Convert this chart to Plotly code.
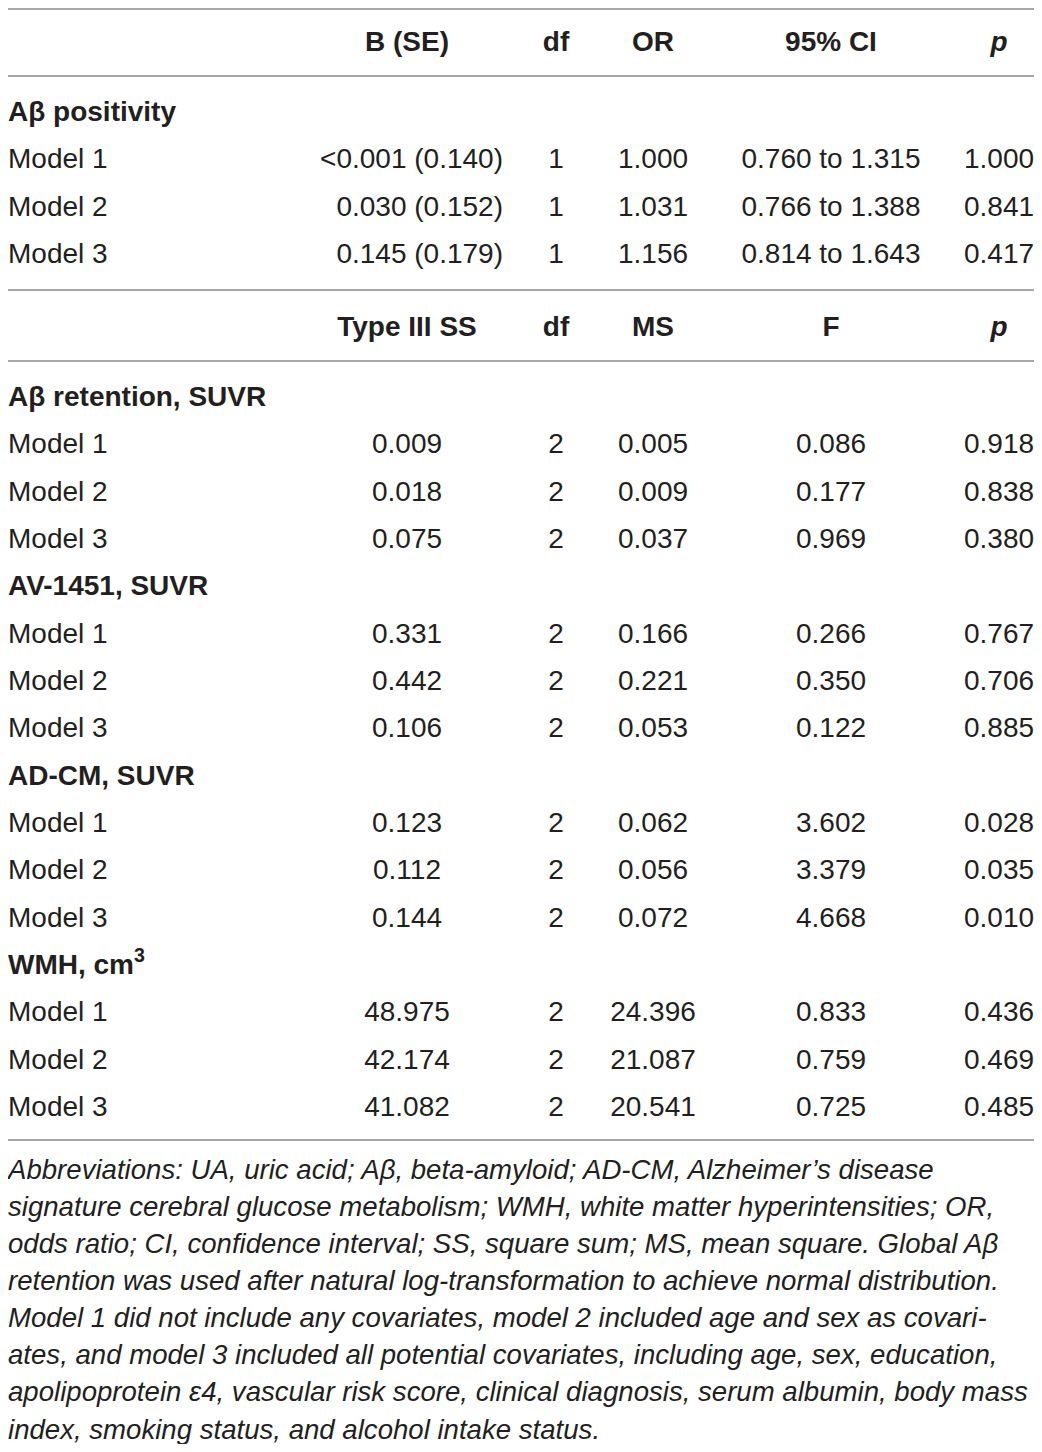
import plotly.graph_objects as go

# ---- data ----
or_headers = ["B (SE)", "df", "OR", "95% CI", "<i>p</i>"]
or_section = "Aβ positivity"
or_models = ["Model 1", "Model 2", "Model 3"]
or_b_se = ["<0.001 (0.140)", "0.030 (0.152)", "0.145 (0.179)"]
or_df = [1, 1, 1]
or_ratio = [1.000, 1.031, 1.156]
or_ci_low = [0.760, 0.766, 0.814]
or_ci_high = [1.315, 1.388, 1.643]
or_p = [1.000, 0.841, 0.417]

anova_headers = ["Type III SS", "df", "MS", "F", "<i>p</i>"]
anova_outcomes = ["Aβ retention, SUVR", "AV-1451, SUVR", "AD-CM, SUVR", "WMH, cm<sup>3</sup>"]
anova_models = ["Model 1", "Model 2", "Model 3"]
anova_ss = [[0.009, 0.018, 0.075], [0.331, 0.442, 0.106],
            [0.123, 0.112, 0.144], [48.975, 42.174, 41.082]]
anova_df = [[2, 2, 2], [2, 2, 2], [2, 2, 2], [2, 2, 2]]
anova_ms = [[0.005, 0.009, 0.037], [0.166, 0.221, 0.053],
            [0.062, 0.056, 0.072], [24.396, 21.087, 20.541]]
anova_f = [[0.086, 0.177, 0.969], [0.266, 0.350, 0.122],
           [3.602, 3.379, 4.668], [0.833, 0.759, 0.725]]
anova_p = [[0.918, 0.838, 0.380], [0.767, 0.706, 0.885],
           [0.028, 0.035, 0.010], [0.436, 0.469, 0.485]]

footnote_lines = [
    "Abbreviations: UA, uric acid; Aβ, beta-amyloid; AD-CM, Alzheimer’s disease",
    "signature cerebral glucose metabolism; WMH, white matter hyperintensities; OR,",
    "odds ratio; CI, confidence interval; SS, square sum; MS, mean square. Global Aβ",
    "retention was used after natural log-transformation to achieve normal distribution.",
    "Model 1 did not include any covariates, model 2 included age and sex as covari-",
    "ates, and model 3 included all potential covariates, including age, sex, education,",
    "apolipoprotein ε4, vascular risk score, clinical diagnosis, serum albumin, body mass",
    "index, smoking status, and alcohol intake status.",
]

# ---- layout constants ----
W, H = 1042, 1452
PAD = 8  # default body margin of the html page
FONT = "Liberation Sans, Arial, sans-serif"
INK = "#231f20"
RULE = "#a6a6a6"
label_x = 8
col_x = [407, 556, 653, 831, 999]
bse_right = 503
pitch = 47.33
head1_y = 44
body1_y = 114
head2_y = 329
body2_y = 399
note_y = 1172
note_pitch = 37.1

fmt = lambda v: f"{v:.3f}"

fig = go.Figure()


def add_text(xs, ys, texts, pos, size=28, style="normal"):
    fig.add_trace(go.Scatter(
        x=xs, y=ys, text=texts, mode="text", textposition=pos,
        textfont=dict(family=FONT, size=size, color=INK, style=style),
        cliponaxis=False, hoverinfo="skip", showlegend=False,
    ))


# header rows
add_text(col_x, [head1_y] * 5, [f"<b>{h}</b>" for h in or_headers], "middle center")
add_text(col_x, [head2_y] * 5, [f"<b>{h}</b>" for h in anova_headers], "middle center")

# first block (logistic regression)
add_text([label_x], [body1_y], [f"<b>{or_section}</b>"], "middle right")
ys1 = [body1_y + pitch * (i + 1) for i in range(len(or_models))]
add_text([label_x] * 3, ys1, or_models, "middle right")
add_text([bse_right] * 3, ys1, or_b_se, "middle left")
add_text([col_x[1]] * 3, ys1, [str(d) for d in or_df], "middle center")
add_text([col_x[2]] * 3, ys1, [fmt(v) for v in or_ratio], "middle center")
add_text([col_x[3]] * 3, ys1,
         [f"{fmt(a)} to {fmt(b)}" for a, b in zip(or_ci_low, or_ci_high)], "middle center")
add_text([col_x[4]] * 3, ys1, [fmt(v) for v in or_p], "middle center")

# second block (ANCOVA)
sec_x, sec_y, sec_t = [], [], []
lab_y, lab_t = [], []
cols = {k: ([], []) for k in range(5)}
row = 0
for k, outcome in enumerate(anova_outcomes):
    sec_x.append(label_x)
    sec_y.append(body2_y + pitch * row)
    sec_t.append(f"<b>{outcome}</b>")
    row += 1
    for m, model in enumerate(anova_models):
        y = body2_y + pitch * row
        lab_y.append(y)
        lab_t.append(model)
        vals = [fmt(anova_ss[k][m]), str(anova_df[k][m]), fmt(anova_ms[k][m]),
                fmt(anova_f[k][m]), fmt(anova_p[k][m])]
        for c, v in enumerate(vals):
            cols[c][0].append(y)
            cols[c][1].append(v)
        row += 1
last_y = body2_y + pitch * (row - 1)

add_text(sec_x, sec_y, sec_t, "middle right")
add_text([label_x] * len(lab_y), lab_y, lab_t, "middle right")
for c in range(5):
    add_text([col_x[c]] * len(cols[c][0]), cols[c][0], cols[c][1], "middle center")

# footnote
add_text([label_x] * len(footnote_lines),
         [note_y + note_pitch * i for i in range(len(footnote_lines))],
         footnote_lines, "middle right", size=27.6, style="italic")

# horizontal rules
rules = [9, head1_y + 32, ys1[-1] + 34, head2_y + 32, last_y + 31]
for y in rules:
    fig.add_shape(type="line", x0=8, x1=1036, y0=y, y1=y, xref="x", yref="y",
                  line=dict(color=RULE, width=2))

# axes in page pixels, figure shrunk by the page's body margin
fig.update_layout(
    width=W - 2 * PAD, height=H - 2 * PAD,
    margin=dict(l=0, r=0, t=0, b=0),
    paper_bgcolor="white", plot_bgcolor="white",
    xaxis=dict(range=[PAD, W - PAD], visible=False, fixedrange=True),
    yaxis=dict(range=[H - PAD, PAD], visible=False, fixedrange=True),
)

fig.write_html("out.html")
